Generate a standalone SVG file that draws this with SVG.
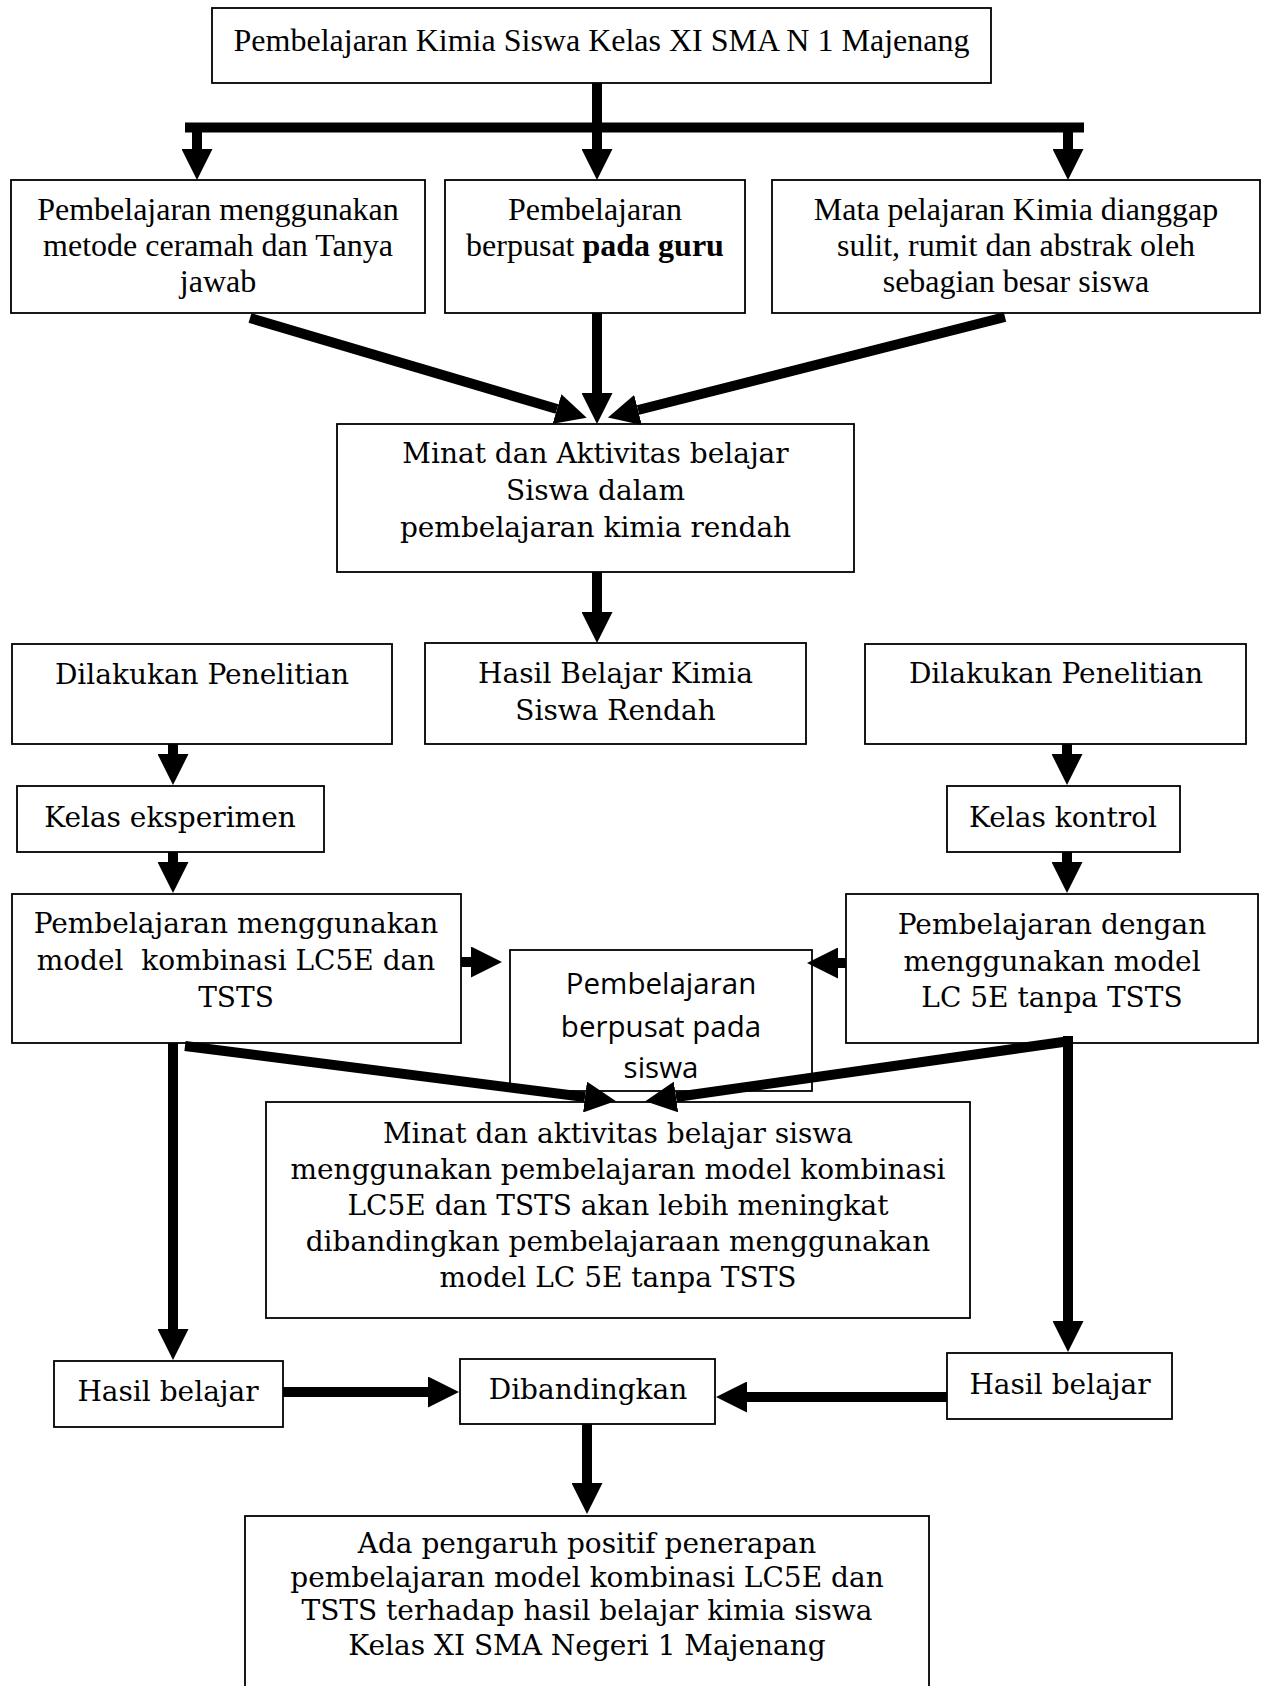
<svg xmlns="http://www.w3.org/2000/svg" width="1262" height="1686" viewBox="0 0 1262 1686">
<defs>
<style>
.box{fill:#fff;stroke:#000;stroke-width:1.8}
.t{font-family:"Liberation Serif","Times New Roman",serif;font-size:32px;fill:#000;text-anchor:middle}
.g{font-family:"DejaVu Serif",Georgia,serif;font-size:28px;fill:#000;text-anchor:middle}
.s{font-family:"Open Sans","Noto Sans",sans-serif;font-size:29.5px;fill:#000;text-anchor:middle}
.c{stroke:#000;stroke-width:10;fill:none}
</style>
<marker id="ah" markerUnits="userSpaceOnUse" viewBox="0 0 31 31" markerWidth="31" markerHeight="31" refX="0" refY="15.5" orient="auto">
<path d="M0,0 L31,15.5 L0,31 z" fill="#000"/>
</marker>
</defs>
<rect width="1262" height="1686" fill="#fff"/>

<g id="n-top"><rect class="box" x="212" y="8" width="779" height="75"/><text class="t" x="601.5" y="51">Pembelajaran Kimia Siswa Kelas XI SMA N 1 Majenang</text></g>
<g id="n-ceramah"><rect class="box" x="11" y="180" width="414" height="133"/><text class="t" x="218" y="220">Pembelajaran menggunakan</text><text class="t" x="218" y="256">metode ceramah dan Tanya</text><text class="t" x="218" y="292">jawab</text></g>
<g id="n-guru"><rect class="box" x="445" y="180" width="300" height="133"/><text class="t" x="595" y="220">Pembelajaran</text><text class="t" x="595" y="256">berpusat <tspan font-weight="bold">pada guru</tspan></text></g>
<g id="n-sulit"><rect class="box" x="772" y="180" width="488" height="133"/><text class="t" x="1016" y="220">Mata pelajaran Kimia dianggap</text><text class="t" x="1016" y="256">sulit, rumit dan abstrak oleh</text><text class="t" x="1016" y="292">sebagian besar siswa</text></g>
<g id="n-minat"><rect class="box" x="337" y="424" width="517" height="148"/><text class="g" x="595.5" y="463">Minat dan Aktivitas belajar</text><text class="g" x="595.5" y="500">Siswa dalam</text><text class="g" x="595.5" y="537">pembelajaran kimia rendah</text></g>
<g id="n-hasilrendah"><rect class="box" x="425" y="643" width="381" height="101"/><text class="g" x="615.5" y="683">Hasil Belajar Kimia</text><text class="g" x="615.5" y="720">Siswa Rendah</text></g>
<g id="n-penelitian-l"><rect class="box" x="12" y="644" width="380" height="100"/><text class="g" x="202" y="684">Dilakukan Penelitian</text></g>
<g id="n-penelitian-r"><rect class="box" x="865" y="644" width="381" height="100"/><text class="g" x="1056" y="683">Dilakukan Penelitian</text></g>
<g id="n-eksperimen"><rect class="box" x="17" y="786" width="307" height="66"/><text class="g" x="170" y="827">Kelas eksperimen</text></g>
<g id="n-kontrol"><rect class="box" x="947" y="786" width="233" height="66"/><text class="g" x="1063" y="827">Kelas kontrol</text></g>
<g id="n-model-l"><rect class="box" x="12" y="894" width="449" height="149"/><text class="g" x="236" y="933">Pembelajaran menggunakan</text><text class="g" x="236" y="970">model&#160; kombinasi LC5E dan</text><text class="g" x="236" y="1007">TSTS</text></g>
<g id="n-model-r"><rect class="box" x="846" y="894" width="412" height="149"/><text class="g" x="1052" y="934">Pembelajaran dengan</text><text class="g" x="1052" y="971">menggunakan model</text><text class="g" x="1052" y="1007">LC 5E tanpa TSTS</text></g>
<g id="n-siswa"><rect class="box" x="510" y="950" width="302" height="141"/><text class="s" x="661" y="994">Pembelajaran</text><text class="s" x="661" y="1037">berpusat pada</text><text class="s" x="661" y="1078">siswa</text></g>
<g id="n-minat2"><rect class="box" x="266" y="1102" width="704" height="216"/><text class="g" x="618" y="1143">Minat dan aktivitas belajar siswa</text><text class="g" x="618" y="1179">menggunakan pembelajaran model kombinasi</text><text class="g" x="618" y="1215">LC5E dan TSTS akan lebih meningkat</text><text class="g" x="618" y="1251">dibandingkan pembelajaraan menggunakan</text><text class="g" x="618" y="1287">model LC 5E tanpa TSTS</text></g>
<g id="n-hasil-l"><rect class="box" x="54" y="1361" width="229" height="66"/><text class="g" x="168" y="1401">Hasil belajar</text></g>
<g id="n-banding"><rect class="box" x="460" y="1359" width="255" height="65"/><text class="g" x="588" y="1399">Dibandingkan</text></g>
<g id="n-hasil-r"><rect class="box" x="947" y="1353" width="225" height="66"/><text class="g" x="1060" y="1394">Hasil belajar</text></g>
<g id="n-final"><rect class="box" x="245" y="1516" width="684" height="200"/><text class="g" x="587" y="1553">Ada pengaruh positif penerapan</text><text class="g" x="587" y="1587">pembelajaran model kombinasi LC5E dan</text><text class="g" x="587" y="1620">TSTS terhadap hasil belajar kimia siswa</text><text class="g" x="587" y="1655">Kelas XI SMA Negeri 1 Majenang</text></g>

<g id="connectors">
<line class="c" x1="185" y1="127.5" x2="1084" y2="127.5"/>
<line class="c" x1="597" y1="83" x2="597" y2="149" marker-end="url(#ah)"/>
<line class="c" x1="197" y1="127" x2="197" y2="149" marker-end="url(#ah)"/>
<line class="c" x1="1068" y1="127" x2="1068" y2="149" marker-end="url(#ah)"/>
<line class="c" x1="250" y1="318" x2="557" y2="409" marker-end="url(#ah)"/>
<line class="c" x1="597" y1="313" x2="597" y2="393" marker-end="url(#ah)"/>
<line class="c" x1="1005" y1="317" x2="638" y2="410" marker-end="url(#ah)"/>
<line class="c" x1="597" y1="572" x2="597" y2="612" marker-end="url(#ah)"/>
<line class="c" x1="173" y1="744" x2="173" y2="754" marker-end="url(#ah)"/>
<line class="c" x1="173" y1="852" x2="173" y2="862" marker-end="url(#ah)"/>
<line class="c" x1="1067" y1="744" x2="1067" y2="754" marker-end="url(#ah)"/>
<line class="c" x1="1067" y1="852" x2="1067" y2="862" marker-end="url(#ah)"/>
<line class="c" x1="461" y1="962" x2="471" y2="962" marker-end="url(#ah)"/>
<line class="c" x1="846" y1="963" x2="838" y2="963" marker-end="url(#ah)"/>
<line class="c" x1="185" y1="1046" x2="585" y2="1097" marker-end="url(#ah)"/>
<line class="c" x1="1070" y1="1041" x2="676" y2="1097" marker-end="url(#ah)"/>
<line class="c" x1="173" y1="1043" x2="173" y2="1329" marker-end="url(#ah)"/>
<line class="c" x1="1068" y1="1036" x2="1068" y2="1321" marker-end="url(#ah)"/>
<line class="c" x1="283" y1="1392" x2="428" y2="1392" marker-end="url(#ah)"/>
<line class="c" x1="947" y1="1397" x2="747" y2="1397" marker-end="url(#ah)"/>
<line class="c" x1="587" y1="1424" x2="587" y2="1483" marker-end="url(#ah)"/>
</g>
</svg>
